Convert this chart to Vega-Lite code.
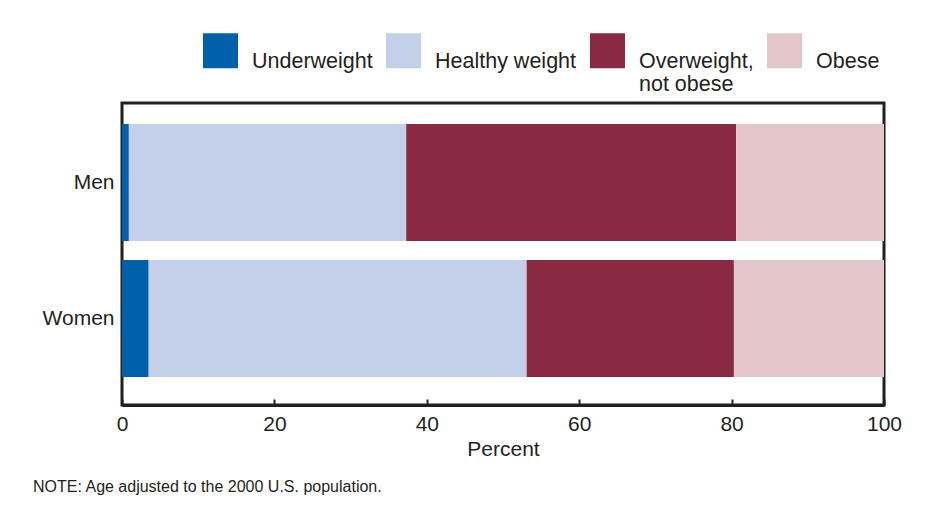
{
  "$schema": "https://vega.github.io/schema/vega-lite/v6.json",
  "width": 762,
  "height": 302,
  "autosize": {"type": "none"},
  "padding": {"left": 122, "top": 103, "right": 52, "bottom": 101},
  "background": "white",
  "data": {
    "values": [
      {"sex": "Men", "category": "Underweight", "percent": 0.9},
      {"sex": "Men", "category": "Healthy weight", "percent": 36.4},
      {"sex": "Men", "category": "Overweight, not obese", "percent": 43.3},
      {"sex": "Men", "category": "Obese", "percent": 19.4},
      {"sex": "Women", "category": "Underweight", "percent": 3.5},
      {"sex": "Women", "category": "Healthy weight", "percent": 49.6},
      {"sex": "Women", "category": "Overweight, not obese", "percent": 27.2},
      {"sex": "Women", "category": "Obese", "percent": 19.7}
    ]
  },
  "transform": [
    {"calculate": "indexof(['Underweight','Healthy weight','Overweight, not obese','Obese'], datum.category)", "as": "rank"}
  ],
  "mark": {"type": "bar"},
  "encoding": {
    "y": {
      "field": "sex",
      "type": "nominal",
      "sort": ["Men", "Women"],
      "scale": {"paddingInner": 0.14, "paddingOuter": 0.18, "align": 0.43},
      "axis": {
        "title": null,
        "ticks": false,
        "domain": false,
        "labelFontSize": 21,
        "labelPadding": 8,
        "labelColor": "#231f20",
        "labelFont": "Liberation Sans"
      }
    },
    "x": {
      "field": "percent",
      "type": "quantitative",
      "stack": "zero",
      "scale": {"domain": [0, 100], "nice": false},
      "axis": {
        "values": [0, 20, 40, 60, 80, 100],
        "grid": false,
        "title": "Percent",
        "titleFontSize": 21,
        "titleFontWeight": "normal",
        "titleColor": "#231f20",
        "titleFont": "Liberation Sans",
        "titlePadding": 4,
        "labelFontSize": 21,
        "labelColor": "#231f20",
        "labelFont": "Liberation Sans",
        "labelPadding": 14,
        "tickSize": -6,
        "tickWidth": 2,
        "tickColor": "#231f20",
        "domainColor": "#231f20",
        "domainWidth": 3,
        "labelFlush": false
      }
    },
    "color": {
      "field": "category",
      "type": "nominal",
      "scale": {
        "domain": ["Underweight", "Healthy weight", "Overweight, not obese", "Obese"],
        "range": ["#0061aa", "#c4d0e9", "#8a2942", "#e3c6c9"]
      },
      "legend": {
        "title": null,
        "orient": "none",
        "direction": "horizontal",
        "legendX": 81,
        "legendY": -70,
        "symbolType": "square",
        "symbolSize": 1225,
        "symbolStrokeWidth": 0,
        "symbolOpacity": 1,
        "labelFontSize": 21.5,
        "labelFont": "Liberation Sans",
        "labelColor": "#231f20",
        "labelBaseline": "top",
        "labelOffset": 14,
        "labelLimit": 300,
        "columnPadding": 13,
        "labelExpr": "datum.label == 'Overweight, not obese' ? ['Overweight,', 'not obese'] : [datum.label, ' ']"
      }
    },
    "order": {"field": "rank", "sort": "ascending"}
  },
  "title": {
    "text": "NOTE: Age adjusted to the 2000 U.S. population.",
    "orient": "bottom",
    "anchor": "start",
    "frame": "group",
    "dx": -89,
    "offset": 20,
    "fontSize": 16,
    "fontWeight": "normal",
    "font": "Liberation Sans",
    "color": "#231f20"
  },
  "config": {
    "view": {"stroke": "#231f20", "strokeWidth": 3},
    "font": "Liberation Sans"
  }
}
